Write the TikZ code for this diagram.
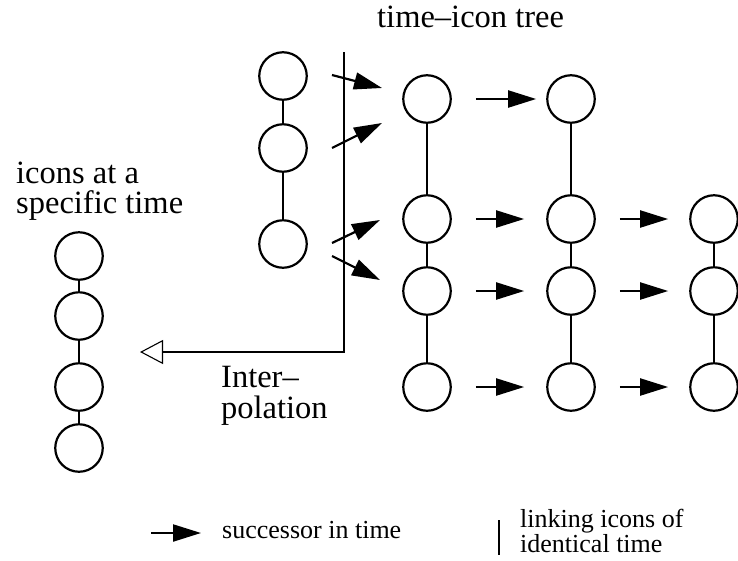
\documentclass[tikz,border=0pt]{standalone}
\usepackage{fontspec}
\setmainfont{Liberation Serif}
\usetikzlibrary{arrows.meta}
\begin{document}
\begin{tikzpicture}[x=1pt,y=-1pt,
  icon/.style={circle,draw,line width=2.2pt,minimum size=47.5pt,inner sep=0pt},
  link/.style={line width=2.2pt},
  thinlink/.style={line width=1.2pt},
  succ/.style={line width=2.2pt,-{Triangle[length=28pt,width=17pt]}},
  interp/.style={line width=1.1pt,-{Triangle[open,length=23pt,width=24pt]}},
  big/.style={font=\fontsize{32.5}{32.5}\selectfont,inner sep=0pt,anchor=base west},
  small/.style={font=\fontsize{26}{26}\selectfont,inner sep=0pt,anchor=base west}]
\useasboundingbox (0,0) rectangle (738,560);

% small tree
\node[icon] (s1) at (283,76) {};
\node[icon] (s2) at (283,148) {};
\node[icon] (s3) at (283,244) {};
\draw[link] (s1) -- (s2);
\draw[link] (s2) -- (s3);

% main tree
\node[icon] (a1) at (427,99) {};
\node[icon] (a2) at (427,219) {};
\node[icon] (a3) at (427,291) {};
\node[icon] (a4) at (427,387) {};
\node[icon] (b1) at (571,99) {};
\node[icon] (b2) at (571,219) {};
\node[icon] (b3) at (571,291) {};
\node[icon] (b4) at (571,387) {};
\node[icon] (c2) at (714,219) {};
\node[icon] (c3) at (714,291) {};
\node[icon] (c4) at (714,387) {};
\draw[link] (a1) -- (a2);
\draw[link] (a2) -- (a3);
\draw[link] (a3) -- (a4);
\draw[link] (b1) -- (b2);
\draw[link] (b2) -- (b3);
\draw[link] (b3) -- (b4);
\draw[link] (c2) -- (c3);
\draw[link] (c3) -- (c4);

% successor arrows
\draw[succ,shorten <=24pt,shorten >=10pt] (a1) -- (b1);
\draw[succ,shorten <=24pt,shorten >=22pt] (a2) -- (b2);
\draw[succ,shorten <=24pt,shorten >=22pt] (a3) -- (b3);
\draw[succ,shorten <=24pt,shorten >=22pt] (a4) -- (b4);
\draw[succ,shorten <=24pt,shorten >=21pt] (b2) -- (c2);
\draw[succ,shorten <=24pt,shorten >=21pt] (b3) -- (c3);
\draw[succ,shorten <=24pt,shorten >=21pt] (b4) -- (c4);

% diagonal arrows from small tree into main tree
\coordinate (d1s) at (332,75);  \coordinate (d1e) at (382,88);
\coordinate (d2s) at (332,148); \coordinate (d2e) at (382,123);
\coordinate (d3s) at (332,243); \coordinate (d3e) at (380,220);
\coordinate (d4s) at (332,256); \coordinate (d4e) at (380,280);
\draw[succ] (d1s) -- (d1e);
\draw[succ] (d2s) -- (d2e);
\draw[succ] (d3s) -- (d3e);
\draw[succ] (d4s) -- (d4e);

% left column
\node[icon] (l1) at (79,256) {};
\node[icon] (l2) at (79,316) {};
\node[icon] (l3) at (79,387) {};
\node[icon] (l4) at (79,448) {};
\draw[thinlink] (l1) -- (l2);
\draw[thinlink] (l2) -- (l3);
\draw[thinlink] (l3) -- (l4);

% interpolation
\coordinate (ip1) at (344,52);
\coordinate (ip2) at (140,352);
\draw[interp] (ip1) |- (ip2);

% texts
\node[big] (title) at (377,27) {time--icon tree};
\node[big] (lt1) at (16,183) {icons at a};
\node[big] (lt2) at (16,213) {specific time};
\node[big] (it1) at (221,387) {Inter--};
\node[big] (it2) at (221,418) {polation};

% legend
\coordinate (lg1) at (151,533);
\coordinate (lg2) at (201,533);
\draw[succ] (lg1) -- (lg2);
\node[small] (lgt) at (222,538) {successor in time};
\coordinate (lk1) at (499,520);
\coordinate (lk2) at (499,555);
\draw[thinlink] (lk1) -- (lk2);
\node[small] (lkt1) at (520,527) {linking icons of};
\node[small] (lkt2) at (520,552) {identical time};
\end{tikzpicture}
\end{document}
